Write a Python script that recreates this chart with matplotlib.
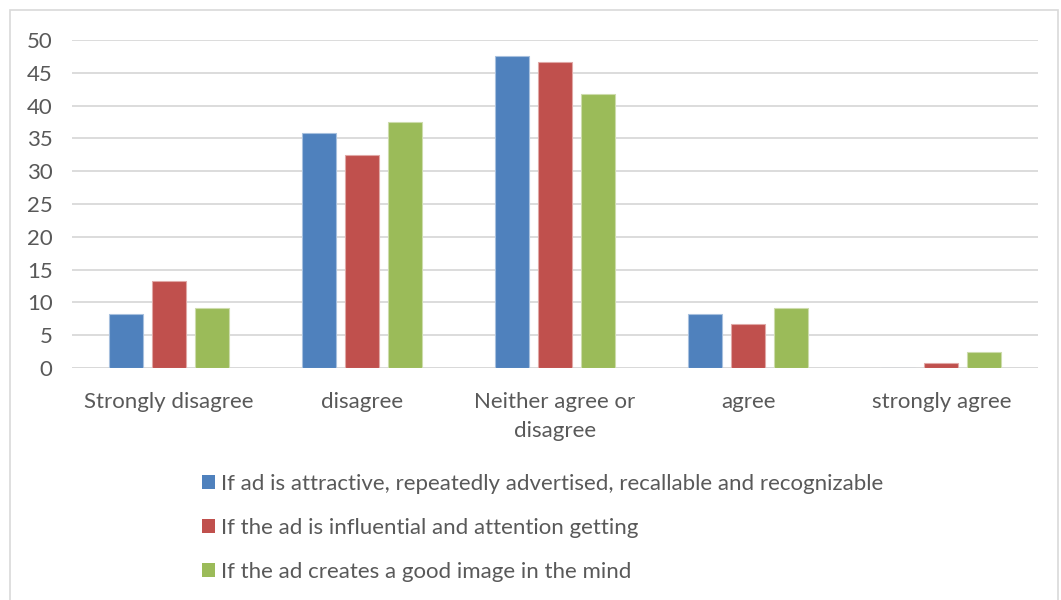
import numpy as np
import matplotlib.pyplot as plt
from matplotlib.patches import Rectangle, Patch

categories = ["Strongly disagree", "disagree", "Neither agree or\ndisagree", "agree", "strongly agree"]
series_names = [
    "If ad is attractive, repeatedly advertised, recallable and recognizable",
    "If the ad is influential and attention getting",
    "If the ad creates a good image in the mind",
]
attractive = [8.3, 35.8, 47.5, 8.3, 0]
influential = [13.3, 32.5, 46.7, 6.7, 0.8]
good_image = [9.2, 37.5, 41.7, 9.2, 2.5]
colors = ["#4f81bd", "#c0504d", "#9bbb59"]
edge_colors = ["#a7c0de", "#e0a8a6", "#cddcac"]

plt.rcParams["font.family"] = ["Lato", "DejaVu Sans"]
text_color = "#595959"

fig = plt.figure(figsize=(10.61, 6.0), dpi=100)
fig.patches.append(Rectangle((10 / 1061, -0.01), 1048 / 1061, 1 - 10 / 600 + 0.01,
                             transform=fig.transFigure, fill=False,
                             edgecolor="#d9d9d9", linewidth=1.2))

ax = fig.add_axes([72 / 1061, 1 - 368 / 600, 966 / 1061, 328 / 600])
x = np.arange(len(categories))
width = 0.176
step = 0.223
for i, vals in enumerate([attractive, influential, good_image]):
    ax.bar(x + (i - 1) * step, vals, width, color=colors[i],
           edgecolor=edge_colors[i], linewidth=0.8, zorder=3)

ax.set_xlim(-0.5, len(categories) - 0.5)
ax.set_ylim(0, 50)
ax.set_yticks(range(0, 51, 5))
ax.yaxis.grid(True, color="#d9d9d9", linewidth=1.3, zorder=0)
ax.set_axisbelow(True)
for s in ["top", "right", "left", "bottom"]:
    ax.spines[s].set_visible(False)
ax.axhline(0, color="#d9d9d9", linewidth=1.3, zorder=1)
ax.set_xticks(x)
ax.set_xticklabels(categories, fontsize=16, color=text_color, linespacing=1.6)
ax.tick_params(axis="both", length=0, labelsize=16, labelcolor=text_color)
ax.tick_params(axis="x", pad=17)
ax.tick_params(axis="y", pad=14)

handles = [Patch(facecolor=c, edgecolor="none") for c in colors]
leg = fig.legend(handles, series_names, loc="upper left",
                 bbox_to_anchor=(182 / 1061, 1 - 454 / 600), frameon=False,
                 fontsize=16, labelcolor=text_color, handlelength=0.6,
                 handleheight=0.6, handletextpad=0.25, labelspacing=1.08)

fig.savefig("out.png", dpi=100)
